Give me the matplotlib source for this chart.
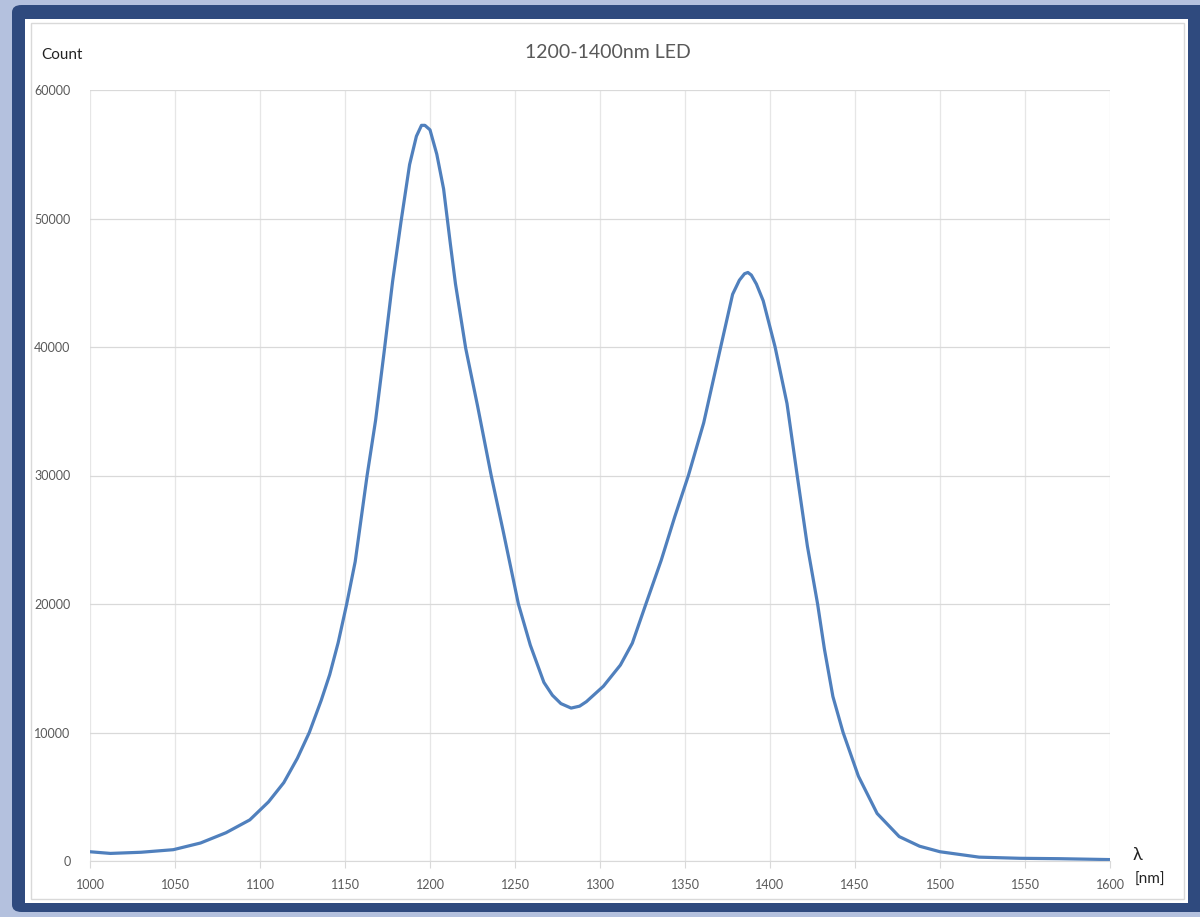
import matplotlib
matplotlib.use("Agg")
import matplotlib.pyplot as plt
from matplotlib.patches import Rectangle, FancyBboxPatch

plt.rcParams['font.family'] = ['Lato', 'DejaVu Sans']

# spectrum
wavelength = [1000, 1012, 1030, 1049, 1065, 1080, 1094, 1105, 1114, 1122, 1129, 1136,
              1141, 1146, 1151, 1156, 1163, 1168, 1173, 1178, 1183, 1188, 1192, 1195,
              1197, 1200, 1204, 1208, 1212, 1215, 1221, 1228, 1236, 1243, 1252, 1259,
              1267, 1272, 1277, 1283, 1288, 1292, 1302, 1312, 1319, 1327, 1336, 1344,
              1352, 1361, 1371, 1378, 1382, 1385, 1387, 1389, 1392, 1396, 1403, 1410,
              1416, 1422, 1428, 1432, 1437, 1443, 1452, 1463, 1476, 1488, 1500, 1523,
              1547, 1570, 1600]
count = [720, 590, 680, 880, 1400, 2200, 3200, 4600, 6100, 8000, 10000, 12500,
         14500, 17000, 20000, 23300, 30000, 34300, 39600, 45100, 49800, 54200, 56400, 57250,
         57250, 56900, 55000, 52300, 48000, 44900, 39900, 35400, 30000, 25700, 20000, 16800,
         13900, 12900, 12250, 11900, 12050, 12400, 13600, 15250, 16950, 20000, 23400, 26800,
         30000, 34100, 40000, 44100, 45200, 45700, 45800, 45600, 44900, 43600, 40000, 35600,
         30000, 24500, 20000, 16500, 12800, 10000, 6600, 3700, 1900, 1150, 720, 300,
         210, 180, 110]

x_ticks = [1000, 1050, 1100, 1150, 1200, 1250, 1300, 1350, 1400, 1450, 1500, 1550, 1600]
y_ticks = [0, 10000, 20000, 30000, 40000, 50000, 60000]

W, H = 1200, 917
fig = plt.figure(figsize=(12, 9.17), dpi=100)
fig.patch.set_facecolor('#b4c1de')

# dark frame and white panel, kept behind the axes
frame = FancyBboxPatch((12 / W, (917 - 912) / H), 1.2, 907 / H,
                       boxstyle="round,pad=0,rounding_size=0.008",
                       transform=fig.transFigure, facecolor='#2f4a7e', edgecolor='none',
                       zorder=-3)
fig.patches.append(frame)
fig.patches.append(Rectangle((25 / W, (917 - 903) / H), 1163 / W, 884 / H,
                             transform=fig.transFigure, facecolor='white', edgecolor='none',
                             zorder=-2))
fig.patches.append(Rectangle((31 / W, (917 - 899) / H), 1153 / W, 876 / H,
                             transform=fig.transFigure, facecolor='white',
                             edgecolor='#d9d9d9', linewidth=1, zorder=-1))

ax = fig.add_axes([90 / W, (917 - 861) / H, 1020 / W, 771 / H])
ax.set_zorder(2)
ax.set_facecolor('white')
ax.plot(wavelength, count, color='#5080bd', linewidth=2.3,
        solid_capstyle='round', solid_joinstyle='round')

ax.set_xlim(1000, 1600)
ax.set_ylim(0, 60000)
ax.set_xticks(x_ticks)
ax.set_yticks(y_ticks)
ax.grid(True, axis='y', color='#d9d9d9', linewidth=0.9)
ax.grid(True, axis='x', color='#e6e6e6', linewidth=0.9)
ax.set_axisbelow(True)
for s in ['top', 'right', 'left']:
    ax.spines[s].set_visible(False)
ax.spines['bottom'].set_color('#d9d9d9')
ax.tick_params(axis='y', length=0, pad=14, labelsize=9, labelcolor='#595959')
ax.tick_params(axis='x', length=5, color='#d9d9d9', pad=8, labelsize=9, labelcolor='#595959')

fig.text(608 / W, 1 - 53 / H, '1200-1400nm LED', ha='center', va='center',
         fontsize=14, color='#595959')
fig.text(41 / W, 1 - 55 / H, 'Count', ha='left', va='center', fontsize=11, color='#222222')
fig.text(1137 / W, 1 - 855 / H, 'λ', ha='center', va='center', fontsize=13, color='#222222')
fig.text(1150 / W, 1 - 880 / H, '[nm]', ha='center', va='center', fontsize=11, color='#222222')

fig.savefig('out.png', dpi=100, facecolor=fig.get_facecolor())
